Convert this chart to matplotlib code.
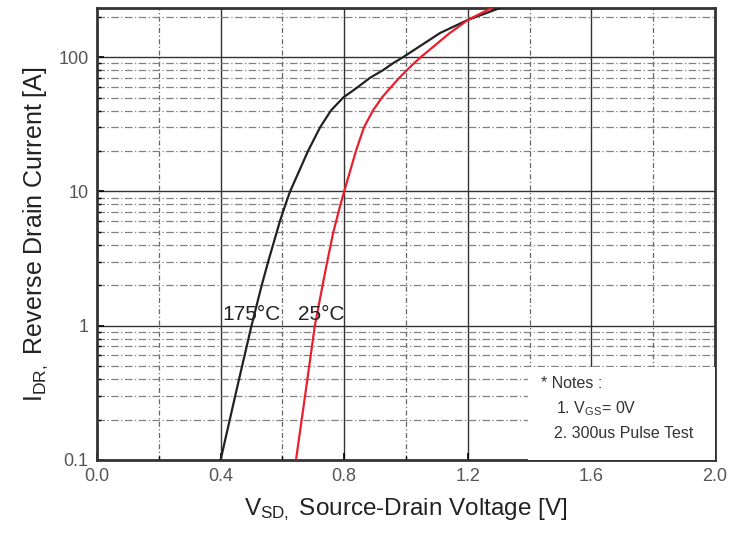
import matplotlib
matplotlib.use("Agg")
import matplotlib.pyplot as plt
import numpy as np

plt.rcParams['font.family'] = ['Liberation Sans', 'DejaVu Sans']
plt.rcParams['mathtext.fontset'] = 'custom'
plt.rcParams['mathtext.rm'] = 'Liberation Sans'
plt.rcParams['mathtext.it'] = 'Liberation Sans'

# 175 C curve
v_175 = [0.40, 0.45, 0.50, 0.533, 0.554, 0.582, 0.592, 0.610, 0.625, 0.683, 0.722, 0.757, 0.797,
         0.845, 0.883, 0.926, 0.958, 0.991, 1.11, 1.20, 1.304]
i_175 = [0.1, 0.32, 1.0, 2.0, 3.0, 5.0, 6.0, 8.0, 10, 20, 30, 40, 50,
         60, 70, 80, 90, 100, 151, 189, 232]
# 25 C curve
v_25 = [0.644, 0.675, 0.705, 0.730, 0.745, 0.765, 0.774, 0.788, 0.800, 0.838, 0.864, 0.893, 0.922,
        0.952, 0.978, 1.003, 1.026, 1.048, 1.14, 1.20, 1.277]
i_25 = [0.1, 0.32, 1.0, 2.0, 3.0, 5.0, 6.0, 8.0, 10, 20, 30, 40, 50,
        60, 70, 80, 90, 100, 150, 189, 232]

xticks = [0.0, 0.4, 0.8, 1.2, 1.6, 2.0]
xtick_labels = ['0.0', '0.4', '0.8', '1.2', '1.6', '2.0']
yticks = [0.1, 1, 10, 100]
ytick_labels = ['0.1', '1', '10', '100']

fig = plt.figure(figsize=(7.35, 5.36), dpi=100)
ax = fig.add_axes([97/735, 1 - 460/536, (715-97)/735, (460-8)/536])
ax.set_yscale('log')
ax.set_xlim(0, 2.0)
ax.set_ylim(0.1, 232)

# grid
for x in [0.4, 0.8, 1.2, 1.6]:
    ax.axvline(x, color='#333333', lw=1.0, zorder=1)
for x in [0.2, 0.6, 1.0, 1.4, 1.8]:
    ax.axvline(x, color='#666666', lw=0.9, ls=(0, (4, 2, 1, 2)), zorder=1)
for y in [1, 10, 100]:
    ax.axhline(y, color='#333333', lw=1.0, zorder=1)
for dec in [0.1, 1, 10, 100]:
    for m in range(2, 10):
        yv = dec * m
        if yv < 232:
            ax.axhline(yv, color='#808080', lw=0.9, ls=(0, (6, 2, 1, 2)), zorder=1)

ax.plot(v_175, i_175, color='#222222', lw=1.6, zorder=3, solid_joinstyle='round')
ax.plot(v_25, i_25, color='#ea1f2d', lw=1.6, zorder=3, solid_joinstyle='round')

ax.text(0.50, 1.22, '175°C', fontsize=15, ha='center', va='center', color='#222222', zorder=4)
ax.text(0.725, 1.22, '25°C', fontsize=15, ha='center', va='center', color='#222222', zorder=4)

ax.set_xticks(xticks)
ax.set_xticklabels(xtick_labels)
ax.set_yticks(yticks)
ax.set_yticklabels(ytick_labels)
ax.yaxis.set_minor_locator(matplotlib.ticker.LogLocator(subs=np.arange(2, 10)))
ax.yaxis.set_minor_formatter(matplotlib.ticker.NullFormatter())
ax.set_xticks([0.2, 0.6, 1.0, 1.4, 1.8], minor=True)
ax.tick_params(which='major', direction='in', length=5, width=1.2, labelsize=13, labelcolor='#555555', pad=6)
ax.tick_params(which='minor', direction='in', length=3, width=1.0)
for s in ax.spines.values():
    s.set_linewidth(2.0)
    s.set_color('#333333')

# notes box
box = matplotlib.patches.Rectangle((528/735, 1 - 460/536), (715-528)/735, (460-367)/536,
                                   transform=fig.transFigure, facecolor='white', edgecolor='none', zorder=5)
ax.add_patch(box)
box.set_clip_on(False)
fig.text(541/735, 1 - 383/536, '* Notes :', fontsize=11.5, va='center', ha='left', color='#333333', zorder=6)
fig.text(556/735, 1 - 409/536, r'1. V$_{GS}$= 0V', fontsize=11.5, va='center', ha='left', color='#333333', zorder=6)
fig.text(554/735, 1 - 434/536, '2. 300us Pulse Test', fontsize=11.5, va='center', ha='left', color='#333333', zorder=6)

ax.set_xlabel(r'V$_{SD,}$ Source-Drain Voltage [V]', fontsize=17.5, color='#222222', labelpad=8)
ax.set_ylabel(r'I$_{DR,}$ Reverse Drain Current [A]', fontsize=18, color='#222222', labelpad=6)

fig.savefig('out.png', dpi=100)
